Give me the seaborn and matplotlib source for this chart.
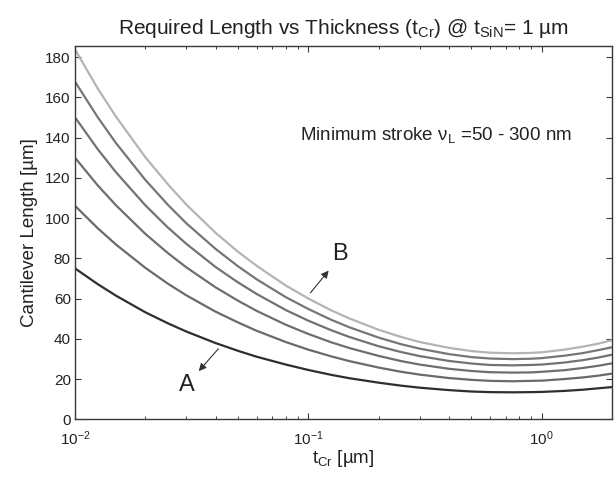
import numpy as np
import pandas as pd
import matplotlib
matplotlib.use("Agg")
import matplotlib.pyplot as plt
import seaborn as sns

# chromium thickness [um]
t_cr = [0.01, 0.0125, 0.015, 0.02, 0.025, 0.03, 0.04, 0.05, 0.06, 0.08,
        0.1, 0.125, 0.15, 0.2, 0.25, 0.3, 0.4, 0.5, 0.6, 0.75,
        0.9, 1.0, 1.25, 1.5, 1.75, 2.0]

# required cantilever length [um], one curve per minimum stroke
stroke_nm = [50, 100, 150, 200, 250, 300]
len_50 = [75.0, 67.2, 61.4, 53.2, 47.7, 43.6, 37.9, 34.0, 31.1, 27.2,
          24.5, 22.1, 20.4, 18.2, 16.7, 15.7, 14.5, 13.8, 13.5, 13.4,
          13.5, 13.6, 14.1, 14.7, 15.4, 16.0]
len_100 = [106.1, 95.0, 86.8, 75.3, 67.4, 61.6, 53.5, 48.1, 44.0, 38.4,
           34.6, 31.3, 28.9, 25.7, 23.6, 22.2, 20.5, 19.6, 19.1, 18.9,
           19.1, 19.2, 20.0, 20.8, 21.7, 22.7]
len_150 = [130.0, 116.3, 106.3, 92.2, 82.6, 75.5, 65.6, 58.9, 53.9, 47.0,
           42.4, 38.3, 35.4, 31.5, 28.9, 27.2, 25.1, 24.0, 23.4, 23.2,
           23.3, 23.6, 24.4, 25.5, 26.6, 27.8]
len_200 = [150.1, 134.3, 122.7, 106.4, 95.3, 87.2, 75.7, 68.0, 62.3, 54.3,
           49.0, 44.3, 40.9, 36.3, 33.4, 31.4, 29.0, 27.7, 27.0, 26.8,
           27.0, 27.2, 28.2, 29.4, 30.7, 32.1]
len_250 = [167.8, 150.2, 137.2, 119.0, 106.6, 97.4, 84.7, 76.0, 69.6, 60.7,
           54.8, 49.5, 45.7, 40.6, 37.3, 35.1, 32.4, 30.9, 30.2, 29.9,
           30.1, 30.4, 31.6, 32.9, 34.4, 35.8]
len_300 = [183.8, 164.5, 150.3, 130.3, 116.8, 106.7, 92.7, 83.2, 76.3, 66.5,
           60.0, 54.2, 50.1, 44.5, 40.9, 38.4, 35.5, 33.9, 33.1, 32.8,
           33.0, 33.3, 34.6, 36.1, 37.6, 39.3]

curves = [len_50, len_100, len_150, len_200, len_250, len_300]
colors = ["#2e2e2e", "#6a6a6a", "#6e6e6e", "#727272", "#767676", "#b4b4b4"]

rows = []
for s, vals in zip(stroke_nm, curves):
    for t, v in zip(t_cr, vals):
        rows.append({"t": t, "L": v, "stroke": s})
df = pd.DataFrame(rows)

sns.set_theme(style="ticks")
plt.rcParams["font.family"] = ["Liberation Sans", "DejaVu Sans"]
plt.rcParams["mathtext.fontset"] = "custom"
plt.rcParams["mathtext.rm"] = "Liberation Sans"
plt.rcParams["mathtext.it"] = "Liberation Sans:italic"
plt.rcParams["mathtext.default"] = "regular"
plt.rcParams["xtick.direction"] = "in"
plt.rcParams["ytick.direction"] = "in"
plt.rcParams["xtick.top"] = True
plt.rcParams["ytick.right"] = True

fig = plt.figure(figsize=(6.16, 4.8), dpi=100)
ax = fig.add_axes([0.1218, 0.1265, 0.8717, 0.7775])

sns.lineplot(data=df, x="t", y="L", hue="stroke", palette=colors,
             linewidth=1.6, legend=False, ax=ax)

ax.set_xscale("log")
ax.set_xlim(0.01, 2.0)
ax.set_ylim(0, 185.5)
ax.set_yticks(np.arange(0, 181, 20))

for sp in ax.spines.values():
    sp.set_color("#3a3a3a")
    sp.set_linewidth(1.0)
ax.tick_params(which="major", length=4, width=0.8, color="#3a3a3a",
               labelsize=11, labelcolor="#222222")
ax.tick_params(axis="x", pad=7)
ax.tick_params(axis="y", pad=3)
ax.tick_params(which="minor", length=2.5, width=0.7, color="#3a3a3a")

ax.set_xlabel(r"t$_{Cr}$ [µm]", fontsize=13.5, color="#222222", labelpad=0)
ax.set_ylabel("Cantilever Length [µm]", fontsize=13.5, color="#222222", labelpad=5)
ax.set_title(r"Required Length vs Thickness (t$_{Cr}$) @ t$_{SiN}$= 1 µm",
             fontsize=15, color="#222222", pad=9)

ax.text(0.0925, 141.5, r"Minimum stroke $\nu_{L}$ =50 - 300 nm",
        fontsize=13.5, color="#222222", va="center", ha="left")

ax.annotate("", xy=(0.1243, 75.0), xytext=(0.1003, 61.8),
            arrowprops=dict(arrowstyle="-|>", color="#333333", lw=0.8,
                            mutation_scale=11))
ax.text(0.1366, 82.4, "B", fontsize=17, color="#222222", ha="center", va="center")
ax.annotate("", xy=(0.0333, 22.9), xytext=(0.0419, 36.1),
            arrowprops=dict(arrowstyle="-|>", color="#333333", lw=0.8,
                            mutation_scale=11))
ax.text(0.0301, 17.0, "A", fontsize=17, color="#222222", ha="center", va="center")

fig.savefig("out.png", dpi=100)
